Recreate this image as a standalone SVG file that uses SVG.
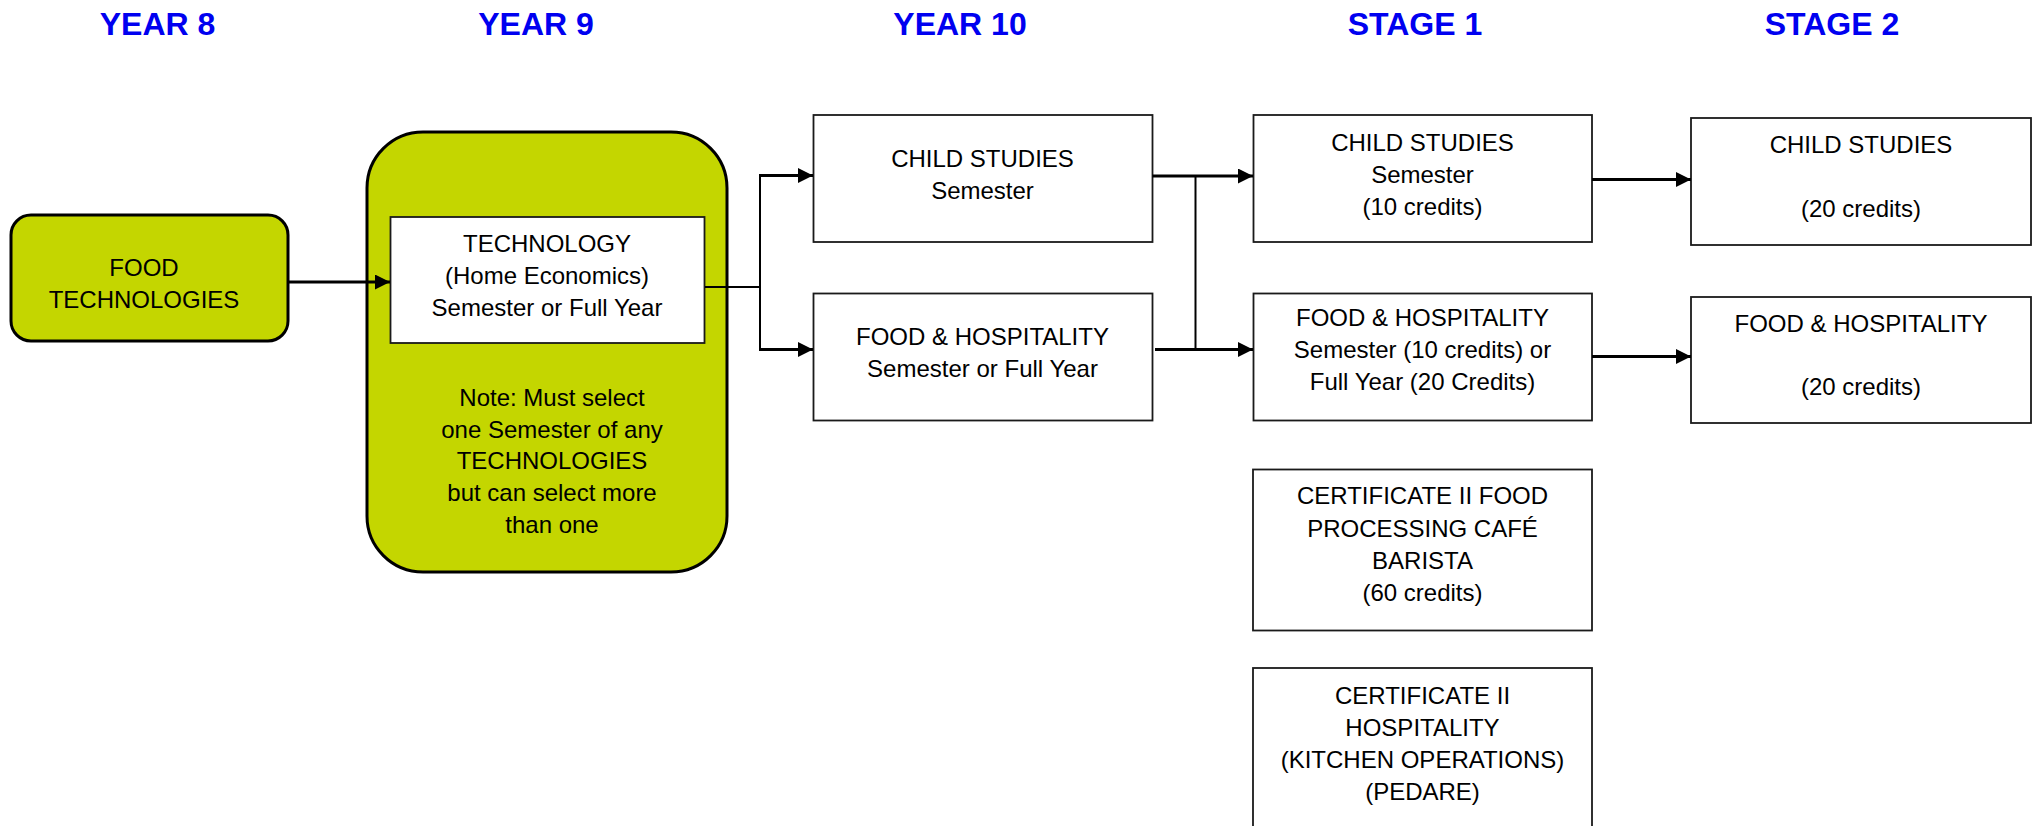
<svg xmlns="http://www.w3.org/2000/svg" width="2038" height="826" viewBox="0 0 2038 826">
<style>
.title{font-family:"Liberation Sans",Arial,sans-serif;font-weight:bold;font-size:32px;fill:#0000F0;text-anchor:middle}
.t{font-family:"Liberation Sans",Arial,sans-serif;font-size:24px;fill:#000;text-anchor:middle}
.box{fill:#fff;stroke:#1a1a1a;stroke-width:1.8}
.green{fill:#C4D600;stroke:#000;stroke-width:3}
.line{fill:none;stroke:#000;stroke-width:3}
.thin{fill:none;stroke:#000;stroke-width:2}
</style>
<defs>
<marker id="arr" markerUnits="userSpaceOnUse" markerWidth="16" markerHeight="16" refX="15" refY="7.5" orient="auto">
<path d="M0,0 L15,7.5 L0,15 z" fill="#000"/>
</marker>
</defs>
<rect width="2038" height="826" fill="#fff"/>
<g id="titles">
<text class="title" x="157.5" y="35">YEAR 8</text>
<text class="title" x="536" y="35">YEAR 9</text>
<text class="title" x="960" y="35">YEAR 10</text>
<text class="title" x="1415" y="35">STAGE 1</text>
<text class="title" x="1832" y="35">STAGE 2</text>
</g>
<g id="food-tech">
<rect class="green" x="11" y="215" width="277" height="126" rx="20"/>
<text class="t" x="144" y="276">FOOD</text>
<text class="t" x="144" y="308">TECHNOLOGIES</text>
</g>
<g id="year9">
<rect class="green" x="367" y="132" width="360" height="440" rx="56"/>
<text class="t" x="552" y="406">Note: Must select</text>
<text class="t" x="552" y="437.5">one Semester of any</text>
<text class="t" x="552" y="469">TECHNOLOGIES</text>
<text class="t" x="552" y="501">but can select more</text>
<text class="t" x="552" y="532.5">than one</text>
</g>
<g id="technology">
<rect class="box" x="390.5" y="217" width="314" height="126"/>
<text class="t" x="547" y="252">TECHNOLOGY</text>
<text class="t" x="547" y="284">(Home Economics)</text>
<text class="t" x="547" y="316">Semester or Full Year</text>
</g>
<g id="y10-child">
<rect class="box" x="813.5" y="115" width="339" height="127"/>
<text class="t" x="982.5" y="167">CHILD STUDIES</text>
<text class="t" x="982.5" y="199">Semester</text>
</g>
<g id="y10-food">
<rect class="box" x="813.5" y="293.5" width="339" height="127"/>
<text class="t" x="982.5" y="345">FOOD &amp; HOSPITALITY</text>
<text class="t" x="982.5" y="377">Semester or Full Year</text>
</g>
<g id="s1-child">
<rect class="box" x="1253.5" y="115" width="338.5" height="127"/>
<text class="t" x="1422.5" y="151">CHILD STUDIES</text>
<text class="t" x="1422.5" y="183">Semester</text>
<text class="t" x="1422.5" y="215">(10 credits)</text>
</g>
<g id="s1-food">
<rect class="box" x="1253.5" y="293.5" width="338.5" height="127"/>
<text class="t" x="1422.5" y="326">FOOD &amp; HOSPITALITY</text>
<text class="t" x="1422.5" y="358">Semester (10 credits) or</text>
<text class="t" x="1422.5" y="390">Full Year (20 Credits)</text>
</g>
<g id="s1-cert-food">
<rect class="box" x="1253" y="469.5" width="339" height="161"/>
<text class="t" x="1422.5" y="504">CERTIFICATE II FOOD</text>
<text class="t" x="1422.5" y="536.5">PROCESSING CAFÉ</text>
<text class="t" x="1422.5" y="568.5">BARISTA</text>
<text class="t" x="1422.5" y="601">(60 credits)</text>
</g>
<g id="s1-cert-hosp">
<rect class="box" x="1253" y="668" width="339" height="200"/>
<text class="t" x="1422.5" y="703.5">CERTIFICATE II</text>
<text class="t" x="1422.5" y="735.5">HOSPITALITY</text>
<text class="t" x="1422.5" y="767.5">(KITCHEN OPERATIONS)</text>
<text class="t" x="1422.5" y="800">(PEDARE)</text>
</g>
<g id="s2-child">
<rect class="box" x="1691" y="118" width="340" height="127"/>
<text class="t" x="1861" y="153">CHILD STUDIES</text>
<text class="t" x="1861" y="217">(20 credits)</text>
</g>
<g id="s2-food">
<rect class="box" x="1691" y="297" width="340" height="126"/>
<text class="t" x="1861" y="332">FOOD &amp; HOSPITALITY</text>
<text class="t" x="1861" y="395">(20 credits)</text>
</g>
<g id="connectors">
<path class="line" d="M288,282 H390" marker-end="url(#arr)"/>
<path class="thin" d="M705,287 H761"/>
<path class="thin" d="M760,175 V350"/>
<path class="line" d="M759,175.5 H813" marker-end="url(#arr)"/>
<path class="line" d="M759,349.5 H813" marker-end="url(#arr)"/>
<path class="line" d="M1152.5,176 H1253" marker-end="url(#arr)"/>
<path class="line" d="M1155,349.5 H1253" marker-end="url(#arr)"/>
<path class="thin" d="M1195.5,176 V349.5"/>
<path class="line" d="M1592,179.5 H1691" marker-end="url(#arr)"/>
<path class="line" d="M1592,356.5 H1691" marker-end="url(#arr)"/>
</g>
</svg>
